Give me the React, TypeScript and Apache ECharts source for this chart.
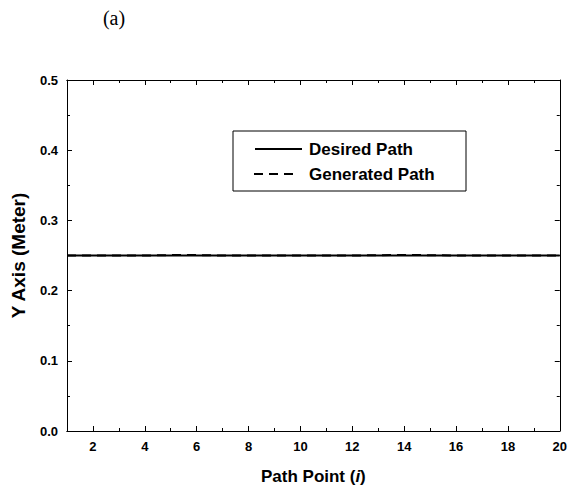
import React, { useEffect, useRef } from "react";
import * as echarts from "echarts";

const pathPoints = [1, 2, 3, 4, 5, 6, 7, 8, 9, 10, 11, 12, 13, 14, 15, 16, 17, 18, 19, 20];
const desiredPath = [0.25, 0.25, 0.25, 0.25, 0.25, 0.25, 0.25, 0.25, 0.25, 0.25, 0.25, 0.25, 0.25, 0.25, 0.25, 0.25, 0.25, 0.25, 0.25, 0.25];
const generatedPath = [0.25, 0.25, 0.25, 0.25, 0.2506, 0.2506, 0.25, 0.25, 0.25, 0.25, 0.25, 0.25, 0.2505, 0.2507, 0.2505, 0.25, 0.25, 0.25, 0.25, 0.25];
const xMajorTicks = [2, 4, 6, 8, 10, 12, 14, 16, 18, 20];
const xMinorTicks = [3, 5, 7, 9, 11, 13, 15, 17, 19];
const seriesNames = ["Desired Path", "Generated Path"];
const panelTitle = "(a)";

const FONT = "'Liberation Sans', Arial, sans-serif";

export default function App() {
  const ref = useRef<HTMLDivElement>(null);
  useEffect(() => {
    if (!ref.current) return;
    const chart = echarts.init(ref.current, null, { renderer: "svg" });
    const axisLine = { show: true, lineStyle: { color: "#000", width: 1 } };
    const hiddenX = (position: string, values: number[], len: number) => ({
      type: "value",
      position,
      min: 1,
      max: 20,
      axisLine,
      axisTick: { show: true, inside: true, length: len, customValues: values, lineStyle: { color: "#000" } },
      axisLabel: { show: false },
      splitLine: { show: false },
    });
    const xy = (arr: number[]) => pathPoints.map((p, i) => [p, arr[i]]);
    chart.setOption({
      animation: false,
      backgroundColor: "#fff",
      grid: { left: 67, right: 7, top: 80, bottom: 58, containLabel: false },
      xAxis: [
        {
          type: "value",
          position: "bottom",
          min: 1,
          max: 20,
          axisLine,
          axisTick: { show: true, inside: true, length: 5, customValues: xMajorTicks, lineStyle: { color: "#000" } },
          axisLabel: {
            show: true,
            customValues: xMajorTicks,
            margin: 9,
            fontFamily: FONT,
            fontWeight: "bold",
            fontSize: 13,
            color: "#000",
          },
          splitLine: { show: false },
          name: "{n|Path Point (}{i|i}{n|)}",
          nameLocation: "middle",
          nameGap: 37,
          nameTextStyle: {
            rich: {
              n: { fontFamily: FONT, fontWeight: "bold", fontSize: 17, color: "#000" },
              i: { fontFamily: FONT, fontWeight: "bold", fontStyle: "italic", fontSize: 17, color: "#000" },
            },
          },
        },
        hiddenX("bottom", xMinorTicks, 3),
        hiddenX("top", xMajorTicks, 5),
        hiddenX("top", xMinorTicks, 3),
      ],
      yAxis: [
        {
          type: "value",
          position: "left",
          min: 0,
          max: 0.5,
          interval: 0.1,
          axisLine,
          axisTick: { show: true, inside: true, length: 5, lineStyle: { color: "#000" } },
          minorTick: { show: true, splitNumber: 2, length: 3, lineStyle: { color: "#000" } },
          axisLabel: {
            formatter: (v: number) => v.toFixed(1),
            margin: 9,
            fontFamily: FONT,
            fontWeight: "bold",
            fontSize: 13,
            color: "#000",
          },
          splitLine: { show: false },
          name: "Y Axis (Meter)",
          nameLocation: "middle",
          nameGap: 39,
          nameTextStyle: { fontFamily: FONT, fontWeight: "bold", fontSize: 19, color: "#000" },
        },
        {
          type: "value",
          position: "right",
          min: 0,
          max: 0.5,
          interval: 0.1,
          axisLine,
          axisTick: { show: true, inside: true, length: 5, lineStyle: { color: "#000" } },
          minorTick: { show: true, splitNumber: 2, length: 3, lineStyle: { color: "#000" } },
          axisLabel: { show: false },
          splitLine: { show: false },
        },
      ],
      series: [
        {
          name: seriesNames[0],
          type: "line",
          data: xy(desiredPath),
          showSymbol: false,
          lineStyle: { color: "#000", width: 2 },
          z: 3,
        },
        {
          name: seriesNames[1],
          type: "line",
          data: xy(generatedPath),
          showSymbol: false,
          lineStyle: { color: "#000", width: 2, type: [9, 6] },
          z: 2,
        },
      ],
      graphic: [
        {
          type: "text",
          x: 114,
          y: 18,
          style: {
            text: panelTitle,
            font: "20px 'Liberation Serif', 'Times New Roman', serif",
            fill: "#000",
            align: "center",
            verticalAlign: "middle",
          },
        },
        {
          type: "rect",
          shape: { x: 233, y: 131, width: 233, height: 60 },
          style: { fill: "#fff", stroke: "#000", lineWidth: 1 },
          z: 10,
        },
        {
          type: "line",
          shape: { x1: 255, y1: 149, x2: 302, y2: 149 },
          style: { stroke: "#000", lineWidth: 2 },
          z: 11,
        },
        {
          type: "line",
          shape: { x1: 254, y1: 174, x2: 293, y2: 174 },
          style: { stroke: "#000", lineWidth: 2, lineDash: [9, 6] },
          z: 11,
        },
        {
          type: "text",
          x: 309,
          y: 149,
          style: { text: seriesNames[0], font: `bold 17px ${FONT}`, fill: "#000", verticalAlign: "middle" },
          z: 11,
        },
        {
          type: "text",
          x: 309,
          y: 174,
          style: { text: seriesNames[1], font: `bold 17px ${FONT}`, fill: "#000", verticalAlign: "middle" },
          z: 11,
        },
      ],
    });
    return () => chart.dispose();
  }, []);
  return <div ref={ref} style={{ position: "absolute", left: 0, top: 0, width: 570, height: 490 }} />;
}
